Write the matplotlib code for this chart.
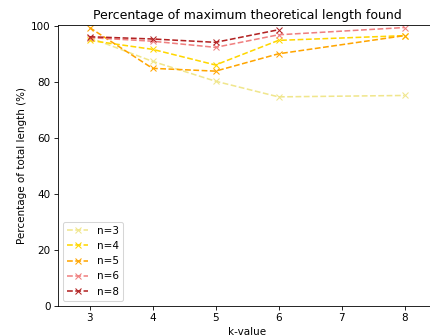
import matplotlib
matplotlib.use("Agg")
import matplotlib.pyplot as plt

# k-values and percentage of maximum theoretical length per n
k_3 = [3, 4, 5, 6, 8]
n3_vals = [96.0, 87.5, 80.4, 74.8, 75.3]
n4_vals = [95.0, 91.8, 86.2, 95.0, 96.7]
n5_vals = [99.6, 85.0, 84.0, 90.2, 96.7]
n6_vals = [96.0, 94.7, 92.5, 97.0, 99.6]
k_8 = [3, 4, 5, 6]
n8_vals = [96.3, 95.5, 94.3, 98.8]

series = [
    ("n=3", k_3, n3_vals, "#f0e68c"),
    ("n=4", k_3, n4_vals, "#ffd700"),
    ("n=5", k_3, n5_vals, "#ffa500"),
    ("n=6", k_3, n6_vals, "#f08080"),
    ("n=8", k_8, n8_vals, "#b22222"),
]

DPI = 75
fig = plt.figure(figsize=(430 / DPI, 336 / DPI), dpi=DPI)
ax = fig.add_axes([58 / 430, 30 / 336, 378 / 430, 281 / 336])

for label, ks, vals, color in series:
    ax.plot(ks, vals, linestyle="--", marker="x", color=color, label=label)

ax.set_xlim(2.5, 8.5)
ax.set_ylim(0, 100.5)
ax.set_xticks([3, 4, 5, 6, 7, 8])
ax.set_title("Percentage of maximum theoretical length found")
ax.set_xlabel("k-value")
ax.set_ylabel("Percentage of total length (%)")
ax.legend(loc="lower left")

fig.savefig("out.png", dpi=DPI)
